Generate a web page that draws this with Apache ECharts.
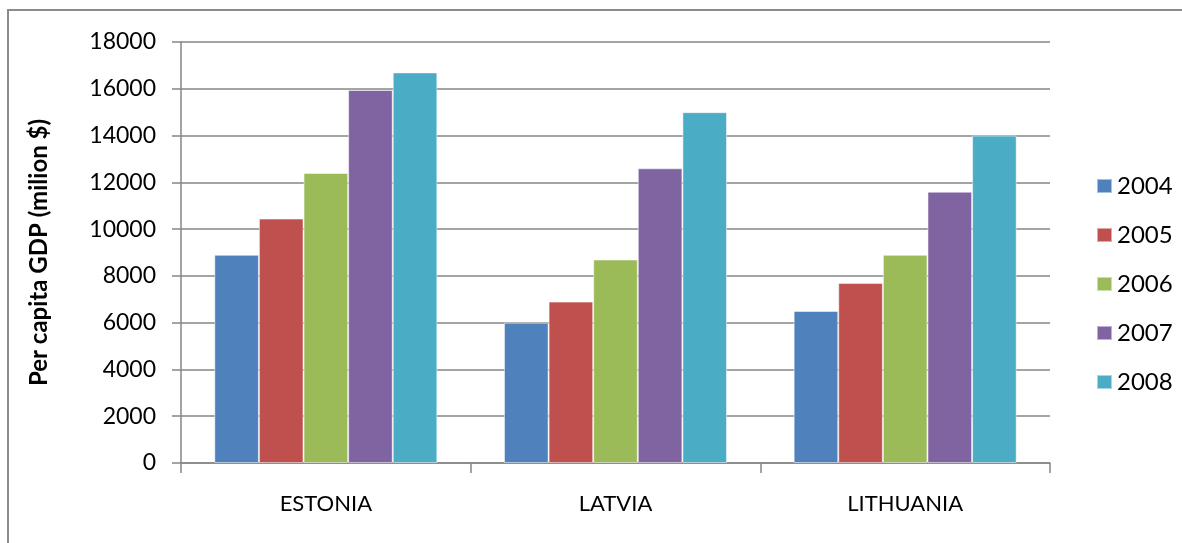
<!DOCTYPE html>
<html>
<head>
<meta charset="utf-8">
<script src="https://cdn.jsdelivr.net/npm/echarts@6/dist/echarts.min.js"></script>
<style>
  html, body { margin: 0; padding: 0; background: #fff; }
  #chart { width: 1182px; height: 543px; }
</style>
</head>
<body>
<div id="chart"></div>
<script>
const countries = ['ESTONIA', 'LATVIA', 'LITHUANIA']
const years = ['2004', '2005', '2006', '2007', '2008']
const gdp2004 = [8900, 6000, 6500]
const gdp2005 = [10450, 6900, 7700]
const gdp2006 = [12400, 8700, 8900]
const gdp2007 = [15950, 12600, 11600]
const gdp2008 = [16700, 15000, 14000]
const yTicks = { min: 0, max: 18000, interval: 2000 }

const colors = ['#4F81BD', '#C0504D', '#9BBB59', '#8064A2', '#4BACC6']
const values = [gdp2004, gdp2005, gdp2006, gdp2007, gdp2008]
const font = 'Lato, "Open Sans", sans-serif'

const chart = echarts.init(document.getElementById('chart'))
chart.setOption({
  animation: false,
  color: colors,
  graphic: [{
    type: 'rect', silent: true, z: -1,
    shape: { x: 8, y: 10, width: 1300, height: 700 },
    style: { fill: 'none', stroke: '#8c8c8c', lineWidth: 2 }
  }],
  grid: { left: 181, right: 132, top: 42, bottom: 80 },
  legend: {
    orient: 'vertical', left: 1091, top: 169,
    itemWidth: 15, itemHeight: 14, itemGap: 25,
    icon: 'rect',
    textStyle: { fontFamily: font, fontSize: 24, color: '#000' },
    data: years
  },
  xAxis: {
    type: 'category', data: countries,
    axisLine: { lineStyle: { color: '#868686', width: 1.5 } },
    axisTick: { show: true, length: 10, lineStyle: { color: '#868686', width: 1.5 } },
    axisLabel: { fontFamily: font, fontSize: 22, color: '#000', margin: 30 }
  },
  yAxis: {
    type: 'value', min: yTicks.min, max: yTicks.max, interval: yTicks.interval,
    name: 'Per capita GDP (milion $)', nameLocation: 'middle', nameGap: 130,
    nameTextStyle: { fontFamily: font, fontSize: 24, fontWeight: 'bold', color: '#000' },
    axisLine: { show: true, lineStyle: { color: '#868686', width: 1.5 } },
    axisTick: { show: true, length: 9, lineStyle: { color: '#868686', width: 1.5 } },
    splitLine: { lineStyle: { color: '#868686', width: 1.5 } },
    axisLabel: { fontFamily: font, fontSize: 23, color: '#000', margin: 25, formatter: v => String(v) }
  },
  series: years.map((y, i) => ({
    name: y, type: 'bar', data: values[i],
    barGap: '0%', barCategoryGap: '23%',
    itemStyle: { color: colors[i], borderColor: 'rgba(255,255,255,0.5)', borderWidth: 1 }
  }))
})
</script>
</body>
</html>
